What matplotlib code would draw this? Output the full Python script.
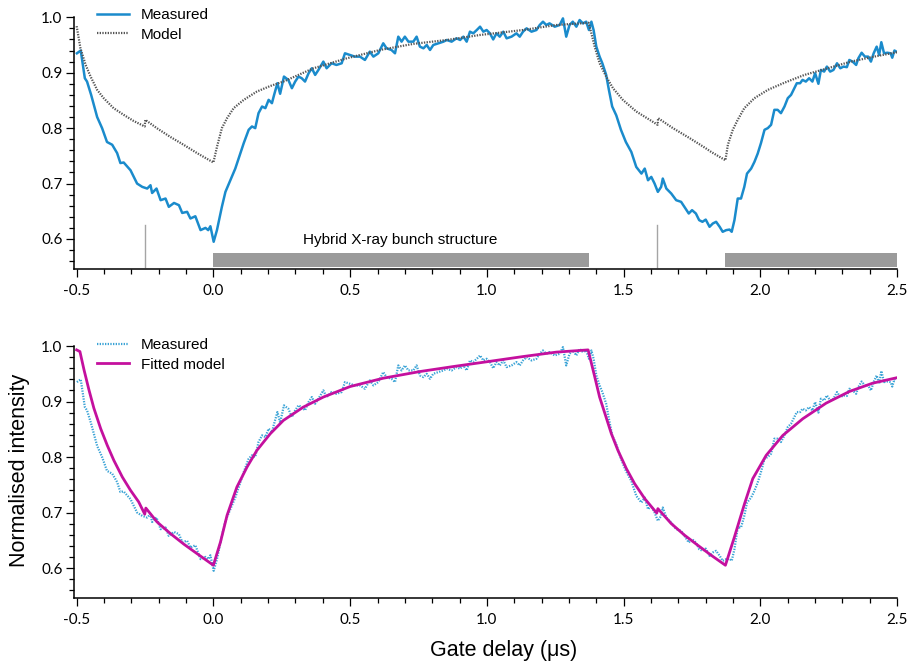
import numpy as np
import matplotlib
matplotlib.use("Agg")
import matplotlib.pyplot as plt

plt.rcParams['font.family'] = ['Liberation Sans', 'DejaVu Sans']
plt.rcParams['axes.unicode_minus'] = False

### Measured signal (gate delay in us, normalised intensity)
meas_t = [-0.499, -0.485, -0.470, -0.462, -0.447, -0.425, -0.407, -0.389, -0.370, -0.352,
          -0.340, -0.328, -0.303, -0.279, -0.260, -0.242, -0.230, -0.224, -0.208, -0.193,
          -0.175, -0.163, -0.144, -0.126, -0.114, -0.096, -0.084, -0.066, -0.047, -0.029,
          -0.019, -0.011, 0.001, 0.013, 0.031, 0.044, 0.062, 0.080, 0.092, 0.111,
          0.129, 0.141, 0.153, 0.165, 0.178, 0.190, 0.202, 0.214, 0.222, 0.234,
          0.244, 0.258, 0.274, 0.287, 0.299, 0.311, 0.323, 0.335, 0.348, 0.360,
          0.372, 0.384, 0.402, 0.414, 0.432, 0.450, 0.469, 0.481, 0.499, 0.517,
          0.536, 0.554, 0.572, 0.585, 0.603, 0.621, 0.633, 0.651, 0.664, 0.676,
          0.688, 0.700, 0.713, 0.731, 0.743, 0.755, 0.768, 0.780, 0.792, 0.804,
          0.823, 0.841, 0.853, 0.871, 0.889, 0.902, 0.914, 0.926, 0.938, 0.950,
          0.963, 0.975, 0.987, 0.999, 1.011, 1.023, 1.035, 1.047, 1.060, 1.072,
          1.090, 1.108, 1.120, 1.132, 1.145, 1.163, 1.181, 1.193, 1.205, 1.217,
          1.229, 1.248, 1.266, 1.278, 1.290, 1.302, 1.314, 1.327, 1.339, 1.351,
          1.363, 1.373, 1.382, 1.390, 1.400, 1.412, 1.422, 1.428, 1.436, 1.446,
          1.458, 1.473, 1.490, 1.508, 1.528, 1.546, 1.565, 1.577, 1.589, 1.601,
          1.613, 1.625, 1.637, 1.643, 1.656, 1.674, 1.692, 1.710, 1.722, 1.738,
          1.750, 1.764, 1.776, 1.788, 1.800, 1.814, 1.826, 1.838, 1.851, 1.862,
          1.875, 1.887, 1.895, 1.905, 1.917, 1.929, 1.941, 1.951, 1.966, 1.978,
          1.990, 2.002, 2.015, 2.027, 2.039, 2.051, 2.063, 2.075, 2.088, 2.100,
          2.112, 2.124, 2.133, 2.145, 2.154, 2.166, 2.178, 2.190, 2.200, 2.212,
          2.221, 2.233, 2.243, 2.255, 2.267, 2.280, 2.292, 2.304, 2.316, 2.325,
          2.337, 2.350, 2.358, 2.370, 2.382, 2.394, 2.404, 2.414, 2.425, 2.434,
          2.442, 2.452, 2.464, 2.476, 2.482, 2.490, 2.497]
meas_v = [0.935, 0.940, 0.890, 0.884, 0.860, 0.820, 0.800, 0.775, 0.770, 0.755,
          0.737, 0.738, 0.724, 0.700, 0.694, 0.691, 0.697, 0.683, 0.691, 0.670,
          0.673, 0.658, 0.665, 0.661, 0.647, 0.649, 0.637, 0.641, 0.616, 0.620,
          0.616, 0.623, 0.595, 0.616, 0.658, 0.685, 0.706, 0.727, 0.745, 0.773,
          0.797, 0.803, 0.800, 0.827, 0.839, 0.836, 0.851, 0.845, 0.860, 0.881,
          0.862, 0.893, 0.887, 0.872, 0.884, 0.893, 0.890, 0.884, 0.899, 0.908,
          0.896, 0.905, 0.920, 0.908, 0.917, 0.914, 0.917, 0.935, 0.932, 0.929,
          0.929, 0.923, 0.938, 0.929, 0.935, 0.953, 0.944, 0.941, 0.935, 0.965,
          0.956, 0.965, 0.956, 0.956, 0.965, 0.947, 0.944, 0.950, 0.941, 0.950,
          0.953, 0.956, 0.959, 0.956, 0.962, 0.959, 0.965, 0.956, 0.974, 0.971,
          0.977, 0.983, 0.974, 0.977, 0.971, 0.960, 0.971, 0.965, 0.974, 0.962,
          0.965, 0.971, 0.965, 0.974, 0.980, 0.974, 0.977, 0.986, 0.992, 0.986,
          0.989, 0.983, 0.986, 0.998, 0.965, 0.986, 0.992, 0.983, 0.995, 0.989,
          0.992, 0.977, 0.992, 0.977, 0.947, 0.929, 0.917, 0.908, 0.896, 0.869,
          0.839, 0.823, 0.797, 0.775, 0.757, 0.730, 0.718, 0.727, 0.706, 0.712,
          0.700, 0.685, 0.694, 0.709, 0.691, 0.682, 0.670, 0.667, 0.658, 0.646,
          0.652, 0.646, 0.634, 0.631, 0.635, 0.622, 0.628, 0.631, 0.622, 0.613,
          0.616, 0.617, 0.613, 0.634, 0.673, 0.673, 0.694, 0.718, 0.727, 0.739,
          0.754, 0.773, 0.797, 0.800, 0.806, 0.833, 0.833, 0.827, 0.839, 0.854,
          0.860, 0.872, 0.881, 0.881, 0.887, 0.884, 0.890, 0.884, 0.899, 0.880,
          0.905, 0.902, 0.911, 0.902, 0.905, 0.917, 0.908, 0.911, 0.910, 0.923,
          0.920, 0.914, 0.926, 0.936, 0.929, 0.929, 0.920, 0.935, 0.947, 0.932,
          0.955, 0.935, 0.936, 0.935, 0.927, 0.940, 0.938]

### Initial model (top panel)
model_t = [-0.500, -0.486, -0.467, -0.449, -0.425, -0.401, -0.365, -0.328, -0.292, -0.251,
           -0.249, -0.207, -0.157, -0.109, -0.060, 0.000, 0.013, 0.031, 0.050, 0.074,
           0.111, 0.159, 0.208, 0.256, 0.366, 0.488, 0.609, 0.731, 0.853, 0.974,
           1.132, 1.253, 1.372, 1.382, 1.394, 1.412, 1.436, 1.461, 1.497, 1.546,
           1.595, 1.624, 1.626, 1.680, 1.741, 1.796, 1.820, 1.872, 1.881, 1.899,
           1.917, 1.941, 1.978, 2.027, 2.088, 2.161, 2.246, 2.331, 2.416, 2.500]
model_v = [0.984, 0.944, 0.914, 0.893, 0.869, 0.854, 0.836, 0.824, 0.813, 0.803,
           0.815, 0.800, 0.784, 0.770, 0.755, 0.738, 0.766, 0.800, 0.818, 0.836,
           0.851, 0.866, 0.876, 0.884, 0.908, 0.926, 0.941, 0.952, 0.959, 0.968,
           0.977, 0.986, 0.990, 0.971, 0.947, 0.917, 0.893, 0.872, 0.851, 0.830,
           0.815, 0.806, 0.818, 0.800, 0.782, 0.765, 0.757, 0.742, 0.770, 0.797,
           0.815, 0.836, 0.854, 0.869, 0.882, 0.896, 0.908, 0.920, 0.929, 0.937]

### Fitted model (bottom panel)
fit_t = [-0.500, -0.488, -0.473, -0.455, -0.437, -0.412, -0.388, -0.364, -0.333, -0.303,
         -0.273, -0.251, -0.247, -0.206, -0.157, -0.108, -0.060, 0.000, 0.026, 0.050,
         0.086, 0.123, 0.159, 0.208, 0.256, 0.329, 0.402, 0.500, 0.621, 0.755,
         0.877, 1.005, 1.132, 1.254, 1.370, 1.394, 1.412, 1.431, 1.455, 1.479,
         1.510, 1.540, 1.577, 1.621, 1.625, 1.674, 1.723, 1.771, 1.820, 1.872,
         1.905, 1.942, 1.972, 2.021, 2.082, 2.155, 2.240, 2.325, 2.410, 2.500]
fit_v = [0.993, 0.990, 0.957, 0.921, 0.888, 0.851, 0.821, 0.794, 0.764, 0.740,
         0.719, 0.697, 0.708, 0.683, 0.662, 0.643, 0.626, 0.605, 0.647, 0.695,
         0.746, 0.782, 0.812, 0.842, 0.866, 0.890, 0.908, 0.927, 0.942, 0.954,
         0.963, 0.972, 0.981, 0.989, 0.993, 0.945, 0.908, 0.879, 0.842, 0.812,
         0.779, 0.752, 0.725, 0.699, 0.707, 0.680, 0.659, 0.641, 0.623, 0.605,
         0.656, 0.716, 0.761, 0.803, 0.839, 0.869, 0.897, 0.918, 0.933, 0.943]

### Hybrid X-ray bunch structure
train_start = [0.0, 1.871]
train_end = [1.372, 2.5]
single_bunch = [-0.25, 1.622]

blue = '#1a8bcc'
lightblue = '#3aa3d6'
magenta = '#c4109e'

fig = plt.figure(figsize=(9.09, 6.64), dpi=100)
ax1 = fig.add_axes([0.081, 0.595, 0.906, 0.379])
ax2 = fig.add_axes([0.081, 0.0994, 0.906, 0.3795])

def style(ax):
    ax.set_xlim(-0.511, 2.5)
    ax.set_ylim(0.546, 1.0)
    for s in ['top', 'right']:
        ax.spines[s].set_visible(False)
    for s in ['left', 'bottom']:
        ax.spines[s].set_linewidth(1.1)
    ax.set_xticks(np.arange(-0.5, 2.51, 0.5))
    ax.set_xticks(np.arange(-0.5, 2.51, 0.1), minor=True)
    ax.set_yticks(np.arange(0.6, 1.01, 0.1))
    ax.set_yticks(np.arange(0.56, 1.001, 0.02), minor=True)
    ax.xaxis.set_major_formatter(matplotlib.ticker.FormatStrFormatter('%.1f'))
    ax.yaxis.set_major_formatter(matplotlib.ticker.FormatStrFormatter('%.1f'))
    ax.tick_params(which='major', direction='out', length=6, width=0.9,
                   labelsize=11, labelfontfamily='Lato')
    ax.tick_params(which='minor', direction='out', length=3.5, width=0.9)
    ax.tick_params(axis='x', pad=5)
    ax.tick_params(axis='y', pad=2)

style(ax1)
style(ax2)

# top panel
ax1.plot(meas_t, meas_v, color=blue, lw=1.8, label='Measured', zorder=3)
ax1.plot(model_t, model_v, color='#555555', lw=1.6, ls=(0, (0.6, 0.6)), label='Model', zorder=4)
for a, b in zip(train_start, train_end):
    ax1.fill_between([a, b], 0.549, 0.5745, color='#9b9b9b', lw=0)
for t in single_bunch:
    ax1.plot([t, t], [0.549, 0.625], color='#a5a5a5', lw=1)
ax1.text(0.684, 0.598, 'Hybrid X-ray bunch structure', ha='center', va='center', fontsize=11)
ax1.legend(loc='upper left', bbox_to_anchor=(0.028, 1.035), frameon=False, fontsize=11,
           handlelength=2.1, handletextpad=0.8, labelspacing=0.35, borderpad=0, borderaxespad=0)

# bottom panel
ax2.plot(meas_t, meas_v, color=lightblue, lw=1.6, ls=(0, (0.6, 0.6)), label='Measured', zorder=3)
ax2.plot(fit_t, fit_v, color=magenta, lw=2, label='Fitted model', zorder=4)
ax2.legend(loc='upper left', bbox_to_anchor=(0.028, 1.03), frameon=False, fontsize=11,
           handlelength=2.1, handletextpad=0.8, labelspacing=0.35, borderpad=0, borderaxespad=0)

fig.text(0.022, 0.292, 'Normalised intensity', rotation=90, ha='center', va='center', fontsize=15.5)
fig.text(0.554, 0.021, 'Gate delay (\u03bcs)', ha='center', va='center', fontsize=15.5)

plt.savefig('out.png', dpi=100)
